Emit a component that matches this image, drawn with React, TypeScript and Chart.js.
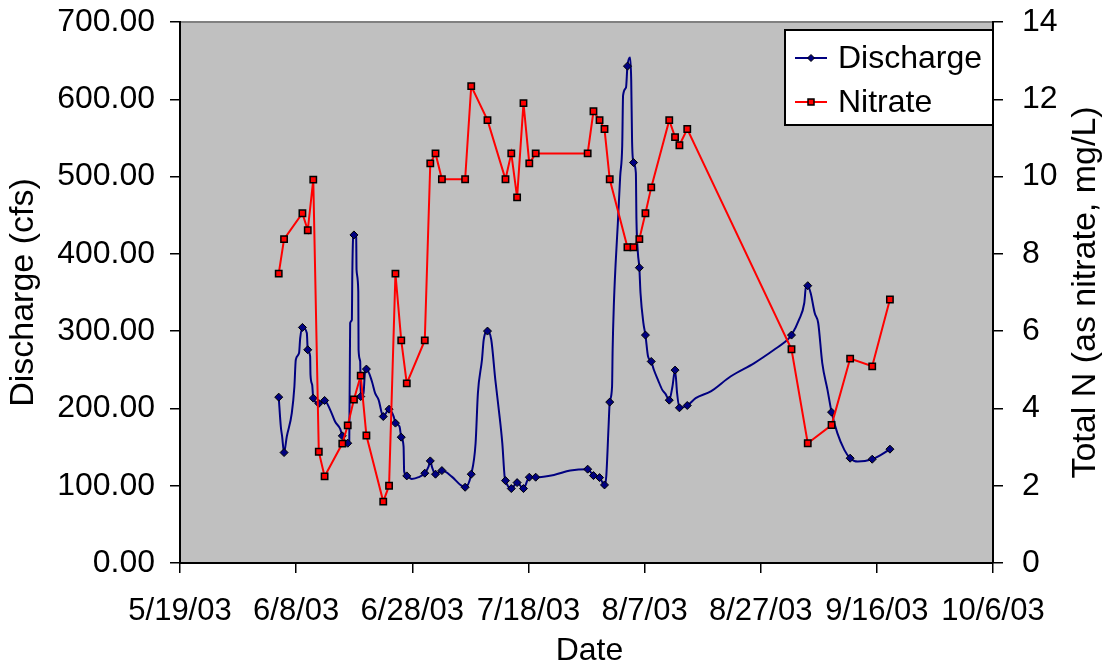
import React, { useEffect, useRef } from "react";
import { Chart, registerables } from "chart.js";

Chart.register(...registerables);

// x positions are days after 5/19/03 (the left end of the date axis)
const axisStartUTC = Date.UTC(2003, 4, 19);
const xTickDays = [0, 20, 40, 60, 80, 100, 120, 140];
const xTickLabels = ["5/19/03", "6/8/03", "6/28/03", "7/18/03", "8/7/03", "8/27/03", "9/16/03", "10/6/03"];

// sampling times (days after 5/19/03) – shared by both sampled series
const sampleDays = [
  17.0, 17.92, 21.08, 22.0, 22.95, 23.9, 24.9, 27.95, 28.88, 29.95,
  31.12, 32.1, 35.0, 36.0, 37.1, 38.1, 39.05, 42.15, 43.1, 44.0,
  45.1, 49.1, 50.15, 52.95, 56.05, 57.05, 58.05, 59.15, 60.15, 61.25,
  70.2, 71.2, 72.25, 73.1, 74.0, 77.05, 78.1, 79.1, 80.15, 81.15,
  84.25, 85.25, 86.0, 87.35, 105.3, 108.1, 112.2, 115.4, 119.2, 122.25,
];
// discharge at sampling times (cfs)
const sampleDischarge = [
  214.6, 142.9, 304.8, 275.9, 213.3, 206.4, 210.3, 164.5, 155.0, 424.5,
  215.4, 250.9, 189.5, 199.0, 181.0, 162.8, 112.7, 116.2, 132.1, 114.9,
  119.6, 98.0, 114.9, 300.1, 106.6, 96.3, 104.0, 96.3, 111.0, 111.0,
  121.4, 113.1, 110.5, 101.0, 208.2, 642.9, 518.1, 382.1, 294.9, 260.8,
  210.7, 249.6, 200.8, 203.8, 294.9, 358.8, 195.2, 135.6, 134.3, 147.3,
];
// nitrate (Total N as nitrate, mg/L)
const sampleNitrate = [
  7.49, 8.38, 9.05, 8.61, 9.92, 2.88, 2.24, 3.09, 3.56, 4.23,
  4.85, 3.3, 1.59, 2.0, 7.49, 5.76, 4.65, 5.76, 10.34, 10.6,
  9.93, 9.93, 12.34, 11.46, 9.93, 10.6, 9.46, 11.9, 10.34, 10.6,
  10.6, 11.69, 11.46, 11.23, 9.93, 8.17, 8.17, 8.38, 9.05, 9.72,
  11.46, 11.02, 10.81, 11.23, 5.53, 3.1, 3.57, 5.29, 5.09, 6.82,
];

// continuous discharge record (days after 5/19/03, cfs)
const flowDays = [
  17.0, 17.36, 17.59, 17.92, 18.39, 19.25, 19.7, 19.94, 20.5, 20.7,
  21.08, 21.84, 22.0, 22.41, 22.47, 22.76, 22.95, 23.9, 24.9, 25.86,
  26.7, 27.6, 27.95, 28.88, 29.15, 29.3, 29.6, 29.66, 29.83, 29.95,
  30.34, 30.4, 30.7, 30.75, 31.03, 31.12, 31.6, 31.84, 32.1, 33.05,
  33.6, 34.2, 35.0, 36.0, 36.8, 37.1, 37.8, 38.1, 38.5, 38.6,
  39.05, 39.9, 41.1, 42.15, 42.8, 43.1, 43.4, 44.0, 45.1, 46.8,
  48.3, 49.1, 50.15, 50.9, 51.3, 52.0, 52.3, 52.95, 53.6, 54.3,
  54.9, 55.5, 55.9, 56.05, 57.05, 58.05, 59.15, 60.15, 61.25, 64.4,
  67.2, 70.2, 71.2, 72.25, 73.1, 73.4, 73.8, 74.0, 74.4, 74.5,
  74.7, 75.0, 75.4, 75.8, 76.15, 76.3, 76.8, 77.05, 77.5, 77.7,
  77.85, 78.1, 78.5, 78.6, 78.85, 79.1, 79.3, 79.8, 80.15, 80.6,
  81.15, 81.6, 82.3, 83.05, 83.6, 84.25, 84.8, 85.25, 85.6, 86.0,
  87.35, 88.8, 91.4, 94.8, 98.9, 102.3, 104.6, 105.3, 106.6, 107.5,
  107.8, 108.1, 108.6, 109.3, 109.9, 110.6, 111.5, 112.2, 113.2, 114.4,
  115.4, 116.7, 119.2, 120.7, 122.25,
];
const flowCfs = [
  214.6, 176.6, 163.6, 142.9, 163.6, 193.9, 228.4, 263.0, 271.6, 291.0,
  304.8, 297.5, 275.9, 267.2, 243.5, 230.6, 213.3, 206.4, 210.3, 198.2,
  183.0, 173.2, 164.5, 155.0, 158.0, 310.5, 314.8, 366.6, 422.7, 424.5,
  421.9, 379.5, 351.4, 275.9, 260.8, 215.4, 219.8, 245.7, 250.9, 234.9,
  219.8, 211.1, 189.5, 199.0, 189.5, 181.0, 176.6, 162.8, 150.6, 118.3,
  112.7, 108.8, 111.0, 116.2, 124.7, 132.1, 124.0, 114.9, 119.6, 111.8,
  101.0, 98.0, 114.9, 155.0, 219.8, 263.0, 288.9, 300.1, 288.9, 237.0,
  198.2, 155.0, 111.8, 106.6, 96.3, 104.0, 96.3, 111.0, 111.0, 114.0,
  119.6, 121.4, 113.1, 110.5, 101.0, 111.8, 176.6, 208.2, 228.0, 276.0,
  332.0, 385.0, 440.0, 500.0, 540.0, 605.0, 615.0, 642.9, 654.0, 625.0,
  545.0, 518.1, 504.8, 444.3, 401.2, 382.1, 349.3, 310.5, 294.9, 267.2,
  260.8, 250.0, 237.0, 224.0, 218.9, 210.7, 228.4, 249.6, 219.8, 200.8,
  203.8, 213.3, 222.0, 241.3, 258.7, 275.9, 288.9, 294.9, 314.8, 336.4,
  357.9, 358.8, 349.3, 323.4, 310.5, 258.7, 224.0, 195.2, 168.0, 146.4,
  135.6, 131.2, 134.3, 139.9, 147.3,
];

const FONT_FAMILY = "'Liberation Sans', Arial, sans-serif";
const NAVY = "#000080";
const RED = "#ff0000";

function dayToLabel(day: number): string {
  const idx = xTickDays.indexOf(day);
  if (idx >= 0) return xTickLabels[idx];
  const d = new Date(axisStartUTC + day * 86400000);
  return `${d.getUTCMonth() + 1}/${d.getUTCDate()}/${String(d.getUTCFullYear()).slice(2)}`;
}

const backgroundPlugin = {
  id: "plotBackground",
  beforeDraw(chart: any) {
    const { ctx, chartArea: a } = chart;
    ctx.save();
    ctx.fillStyle = "#c0c0c0";
    ctx.fillRect(a.left, a.top, a.right - a.left, a.bottom - a.top);
    ctx.strokeStyle = "#808080";
    ctx.lineWidth = 2;
    ctx.beginPath();
    ctx.moveTo(a.left, a.top);
    ctx.lineTo(a.right, a.top);
    ctx.stroke();
    ctx.restore();
  },
};

function drawDiamond(ctx: CanvasRenderingContext2D, x: number, y: number, r: number) {
  ctx.beginPath();
  ctx.moveTo(x, y - r);
  ctx.lineTo(x + r, y);
  ctx.lineTo(x, y + r);
  ctx.lineTo(x - r, y);
  ctx.closePath();
  ctx.fillStyle = NAVY;
  ctx.fill();
  ctx.strokeStyle = "#000";
  ctx.lineWidth = 1;
  ctx.stroke();
}

function drawSquare(ctx: CanvasRenderingContext2D, x: number, y: number, h: number) {
  ctx.fillStyle = RED;
  ctx.fillRect(x - h, y - h, 2 * h, 2 * h);
  ctx.strokeStyle = "#000";
  ctx.lineWidth = 1.5;
  ctx.strokeRect(x - h, y - h, 2 * h, 2 * h);
}

const annotationPlugin = {
  id: "legendAndTitles",
  afterDraw(chart: any) {
    const { ctx, chartArea: a, width, height } = chart;
    ctx.save();
    // legend box
    const boxW = 208;
    const boxH = 95;
    const bx = a.right - boxW;
    const by = a.top + 8;
    ctx.fillStyle = "#ffffff";
    ctx.fillRect(bx, by, boxW, boxH);
    ctx.strokeStyle = "#000";
    ctx.lineWidth = 2;
    ctx.strokeRect(bx, by, boxW, boxH);
    const entries = [
      { label: "Discharge", color: NAVY, y: by + 28, marker: "diamond" },
      { label: "Nitrate", color: RED, y: by + 72, marker: "square" },
    ];
    ctx.font = `32px ${FONT_FAMILY}`;
    ctx.textBaseline = "middle";
    ctx.textAlign = "left";
    for (const e of entries) {
      ctx.strokeStyle = e.color;
      ctx.lineWidth = 2;
      ctx.beginPath();
      ctx.moveTo(bx + 10, e.y);
      ctx.lineTo(bx + 42, e.y);
      ctx.stroke();
      if (e.marker === "diamond") drawDiamond(ctx, bx + 26, e.y, 3.5);
      else drawSquare(ctx, bx + 26, e.y, 3);
      ctx.fillStyle = "#000";
      ctx.fillText(e.label, bx + 53, e.y + 1);
    }
    // axis titles
    ctx.fillStyle = "#000";
    ctx.textAlign = "center";
    ctx.textBaseline = "middle";
    const midY = (a.top + a.bottom) / 2;
    ctx.font = `34px ${FONT_FAMILY}`;
    ctx.save();
    ctx.translate(24, midY);
    ctx.rotate(-Math.PI / 2);
    ctx.fillText("Discharge (cfs)", 0, 0);
    ctx.restore();
    ctx.save();
    ctx.translate(width - 23, midY);
    ctx.rotate(-Math.PI / 2);
    ctx.fillText("Total N (as nitrate, mg/L)", 0, 0);
    ctx.restore();
    ctx.font = `32px ${FONT_FAMILY}`;
    ctx.fillText("Date", (a.left + a.right) / 2 + 3, height - 15);
    ctx.restore();
  },
};

export default function App() {
  const canvasRef = useRef<HTMLCanvasElement | null>(null);

  useEffect(() => {
    document.body.style.margin = "0";
    document.body.style.overflow = "hidden";
    const canvas = canvasRef.current;
    if (!canvas) return;
    const xTickFont = { family: FONT_FAMILY, size: 31 };
    const yTickFont = { family: FONT_FAMILY, size: 32 };
    const gridOpts = {
      display: true,
      drawOnChartArea: false,
      drawTicks: true,
      tickLength: 10,
      color: "#000",
      lineWidth: 1.5,
    };
    const borderOpts = { display: true, color: "#000", width: 2 };
    const fixVertical = (w: number) => (s: any) => {
      s.width = w;
      s.paddingTop = 0;
      s.paddingBottom = 0;
    };

    const chart = new Chart(canvas, {
      type: "line",
      data: {
        datasets: [
          {
            label: "Nitrate",
            yAxisID: "y2",
            data: sampleDays.map((d, i) => ({ x: d, y: sampleNitrate[i] })),
            borderColor: RED,
            borderWidth: 2,
            tension: 0,
            pointStyle: "rect",
            pointRadius: 4.5,
            pointBackgroundColor: RED,
            pointBorderColor: "#000",
            pointBorderWidth: 1.5,
            order: 0,
          },
          {
            label: "Discharge (samples)",
            yAxisID: "y",
            data: sampleDays.map((d, i) => ({ x: d, y: sampleDischarge[i] })),
            showLine: false,
            pointStyle: "rectRot",
            pointRadius: 4,
            pointBackgroundColor: NAVY,
            pointBorderColor: "#000",
            pointBorderWidth: 1,
            order: 1,
          },
          {
            label: "Discharge",
            yAxisID: "y",
            data: flowDays.map((d, i) => ({ x: d, y: flowCfs[i] })),
            borderColor: NAVY,
            borderWidth: 2,
            pointRadius: 0,
            cubicInterpolationMode: "monotone",
            order: 2,
          },
        ],
      } as any,
      options: {
        animation: false,
        responsive: false,
        devicePixelRatio: 1,
        layout: { padding: { top: 22, left: 0, right: 0, bottom: 0 } },
        plugins: {
          legend: { display: false },
          tooltip: { enabled: false },
          title: { display: false },
        },
        scales: {
          x: {
            type: "linear",
            min: 0,
            max: 140,
            afterFit: (s: any) => {
              s.height = 103;
              s.paddingLeft = 0;
              s.paddingRight = 0;
            },
            afterBuildTicks: (s: any) => {
              s.ticks = xTickDays.map((v) => ({ value: v }));
            },
            ticks: {
              autoSkip: false,
              maxRotation: 0,
              minRotation: 0,
              padding: 20,
              color: "#000",
              font: xTickFont,
              callback: (v: any) => dayToLabel(Number(v)),
            },
            grid: gridOpts,
            border: borderOpts,
          },
          y: {
            type: "linear",
            position: "left",
            min: 0,
            max: 700,
            afterFit: fixVertical(180),
            ticks: {
              stepSize: 100,
              padding: 15,
              color: "#000",
              font: yTickFont,
              callback: (v: any) => Number(v).toFixed(2),
            },
            grid: gridOpts,
            border: borderOpts,
          },
          y2: {
            type: "linear",
            position: "right",
            min: 0,
            max: 14,
            afterFit: fixVertical(116),
            ticks: {
              stepSize: 2,
              padding: 19,
              color: "#000",
              font: yTickFont,
              callback: (v: any) => String(v),
            },
            grid: gridOpts,
            border: borderOpts,
          },
        },
      } as any,
      plugins: [backgroundPlugin, annotationPlugin],
    });
    return () => chart.destroy();
  }, []);

  return (
    <div style={{ width: 1109, height: 666, background: "#ffffff" }}>
      <canvas ref={canvasRef} width={1109} height={666} style={{ display: "block" }} />
    </div>
  );
}
